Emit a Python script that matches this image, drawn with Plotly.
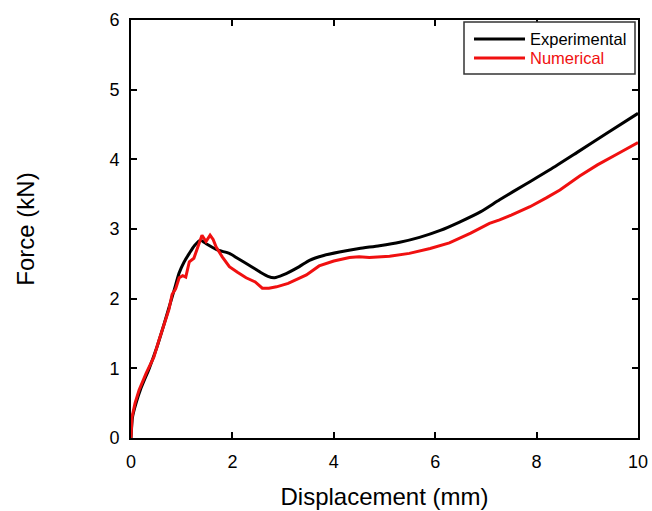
import plotly.graph_objects as go

exp_x = [0, 0.03, 0.1, 0.2, 0.36, 0.5, 0.65, 0.85, 0.95, 1.05, 1.15, 1.25, 1.37, 1.5, 1.7, 1.94, 2.1, 2.33, 2.55, 2.7, 2.83, 3.0, 3.32, 3.52, 3.8, 4.11, 4.5, 4.9, 5.3, 5.69, 6.1, 6.48, 6.9, 7.27, 7.8, 8.26, 8.8, 9.4, 10.0]
exp_y = [0, 0.3, 0.5, 0.72, 1.0, 1.28, 1.63, 2.12, 2.37, 2.53, 2.65, 2.76, 2.84, 2.78, 2.7, 2.65, 2.58, 2.48, 2.38, 2.32, 2.30, 2.34, 2.46, 2.55, 2.62, 2.67, 2.72, 2.76, 2.81, 2.88, 2.98, 3.10, 3.25, 3.42, 3.65, 3.85, 4.1, 4.38, 4.66]

num_x = [0, 0.02, 0.08, 0.16, 0.3, 0.45, 0.55, 0.65, 0.75, 0.81, 0.88, 0.95, 1.02, 1.08, 1.15, 1.24, 1.3, 1.34, 1.40, 1.48, 1.56, 1.62, 1.68, 1.8, 1.94, 2.1, 2.27, 2.45, 2.59, 2.72, 2.87, 3.1, 3.32, 3.46, 3.71, 4.0, 4.31, 4.5, 4.7, 5.1, 5.49, 5.9, 6.28, 6.7, 7.07, 7.27, 7.5, 7.87, 8.2, 8.46, 8.85, 9.2, 9.6, 10.0]
num_y = [0, 0.3, 0.5, 0.69, 0.93, 1.16, 1.4, 1.63, 1.85, 2.06, 2.14, 2.30, 2.33, 2.31, 2.53, 2.58, 2.7, 2.80, 2.91, 2.82, 2.91, 2.85, 2.74, 2.6, 2.46, 2.38, 2.30, 2.24, 2.15, 2.15, 2.17, 2.22, 2.30, 2.34, 2.47, 2.54, 2.59, 2.60, 2.59, 2.61, 2.65, 2.72, 2.80, 2.94, 3.08, 3.13, 3.20, 3.32, 3.45, 3.56, 3.76, 3.92, 4.08, 4.24]

series_names = ["Experimental", "Numerical"]
series_colors = ["black", "#f01010"]

font = "Liberation Sans, Arial, sans-serif"

fig = go.Figure()
fig.add_trace(go.Scatter(x=exp_x, y=exp_y, mode="lines", name=series_names[0],
                         line=dict(color=series_colors[0], width=3, shape="spline", smoothing=0.6)))
fig.add_trace(go.Scatter(x=num_x, y=num_y, mode="lines", name=series_names[1],
                         line=dict(color=series_colors[1], width=3)))

axis_common = dict(showline=True, linecolor="black", linewidth=2, mirror="ticks",
                   ticks="inside", ticklen=6, tickwidth=2, tickcolor="black",
                   showgrid=False, zeroline=False, automargin=False,
                   ticklabelstandoff=6,
                   tickfont=dict(family=font, size=18, color="black"))

# manual legend (box, line samples, coloured labels) in axis-domain coordinates
L, R, T, B = 131, 638, 20, 438
def dx(px): return (px - L) / (R - L)
def dy(py): return (B - py) / (B - T)

shapes = [dict(type="rect", xref="x domain", yref="y domain",
               x0=dx(464), x1=dx(635), y0=dy(74), y1=dy(22),
               line=dict(color="#333", width=1.5), fillcolor="white", layer="above")]
annotations = []
for i, (nm, col) in enumerate(zip(series_names, series_colors)):
    yy = 39 + i * 19
    shapes.append(dict(type="line", xref="x domain", yref="y domain",
                       x0=dx(474), x1=dx(525), y0=dy(yy), y1=dy(yy),
                       line=dict(color=col, width=3), layer="above"))
    annotations.append(dict(text=nm, xref="x domain", yref="y domain",
                            x=dx(528), y=dy(yy), xanchor="left", yanchor="middle",
                            showarrow=False, font=dict(family=font, size=16.5, color=col)))

fig.update_layout(
    width=652, height=511,
    margin=dict(l=131, r=14, t=20, b=73),
    paper_bgcolor="white", plot_bgcolor="white",
    showlegend=False,
    shapes=shapes, annotations=annotations,
    xaxis=dict(range=[0, 10], tickvals=[0, 2, 4, 6, 8, 10],
               title=dict(text="Displacement (mm)", font=dict(family=font, size=24, color="black"), standoff=18),
               **axis_common),
    yaxis=dict(range=[0, 6], tickvals=[0, 1, 2, 3, 4, 5, 6],
               title=dict(text="Force (kN)", font=dict(family=font, size=24, color="black"), standoff=68),
               **axis_common),
)
fig.write_html("out.html")
